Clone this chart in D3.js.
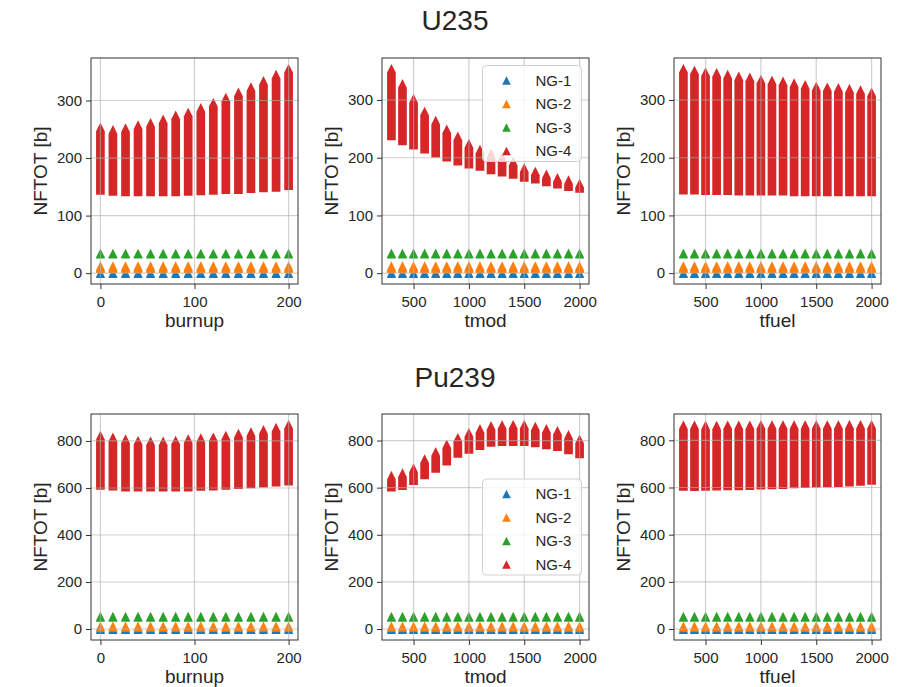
<!DOCTYPE html>
<html>
<head>
<meta charset="utf-8">
<script src="https://cdn.jsdelivr.net/npm/d3@7"></script>
<style>
  body { margin: 0; background: #fff; }
  svg text { font-family: "Liberation Sans", Arial, Helvetica, sans-serif; fill: #262626; }
</style>
</head>
<body>
<svg id="chart" width="910" height="687"></svg>
<script>
'use strict';

// sampled parameter values (x positions of the marker columns)
const burnup = [0, 13.3, 26.7, 40, 53.3, 66.7, 80, 93.3, 106.7, 120, 133.3, 146.7, 160, 173.3, 186.7, 200];
const temps = [300, 400, 500, 600, 700, 800, 900, 1000, 1100, 1200, 1300, 1400, 1500, 1600, 1700, 1800, 1900, 2000];

const groups = ['NG-1', 'NG-2', 'NG-3', 'NG-4'];
const colors = ['#1f77b4', '#ff7f0e', '#2ca02c', '#d62728'];

// NG-4 spread at each x: lowest and highest value of the column
const u235BurnupMin = [144, 142, 141, 141, 141, 141, 141, 142, 143, 144, 145, 145, 147, 148, 149, 152];
const u235BurnupMax = [254, 250, 253, 258, 262, 268, 275, 280, 288, 297, 306, 315, 324, 335, 346, 356];
const u235TmodMin = [238, 229, 222, 215, 208, 201, 194, 189, 185, 179, 175, 171, 166, 163, 158, 154, 150, 147];
const u235TmodMax = [355, 329, 303, 281, 265, 250, 238, 225, 215, 208, 202, 194, 183, 177, 172, 166, 162, 156];
const u235TfuelMin = [144, 144, 143, 143, 143, 142, 142, 142, 142, 142, 141, 141, 141, 141, 141, 141, 141, 141];
const u235TfuelMax = [355, 352, 349, 348, 345, 342, 340, 336, 335, 333, 330, 327, 324, 323, 322, 320, 318, 314];

const pu239BurnupMin = [611, 608, 604, 603, 603, 603, 603, 604, 607, 608, 611, 614, 617, 621, 625, 629];
const pu239BurnupMax = [825, 817, 810, 803, 800, 800, 804, 810, 814, 818, 825, 833, 840, 849, 859, 871];
const pu239TmodMin = [602, 609, 630, 654, 682, 713, 745, 762, 778, 792, 795, 795, 795, 790, 781, 774, 760, 743];
const pu239TmodMax = [653, 664, 684, 723, 754, 786, 814, 835, 852, 864, 868, 869, 869, 861, 852, 843, 826, 807];
const pu239TfuelMin = [605, 604, 605, 606, 607, 607, 608, 610, 611, 612, 615, 616, 618, 619, 621, 623, 626, 630];
const pu239TfuelMax = [866, 866, 864, 864, 866, 866, 866, 867, 867, 867, 867, 867, 867, 867, 867, 868, 868, 868];

// NG-1..NG-3 stay put: [lowest, highest] at every x
const u235Low = [[-1, 1], [8, 13], [33, 35]];
const pu239Low = [[-3, 2], [7, 13], [49, 55]];

const u235Ticks = [0, 100, 200, 300];
const pu239Ticks = [0, 200, 400, 600, 800];
const burnupTicks = [0, 100, 200];
const tempTicks = [500, 1000, 1500, 2000];

const titles = ['U235', 'Pu239'];

const panels = [
  { row: 0, col: 0, xs: burnup, lo: u235BurnupMin, hi: u235BurnupMax, low: u235Low, xlabel: 'burnup', xt: burnupTicks, yt: u235Ticks },
  { row: 0, col: 1, xs: temps, lo: u235TmodMin, hi: u235TmodMax, low: u235Low, xlabel: 'tmod', xt: tempTicks, yt: u235Ticks, legend: 'upper right' },
  { row: 0, col: 2, xs: temps, lo: u235TfuelMin, hi: u235TfuelMax, low: u235Low, xlabel: 'tfuel', xt: tempTicks, yt: u235Ticks },
  { row: 1, col: 0, xs: burnup, lo: pu239BurnupMin, hi: pu239BurnupMax, low: pu239Low, xlabel: 'burnup', xt: burnupTicks, yt: pu239Ticks },
  { row: 1, col: 1, xs: temps, lo: pu239TmodMin, hi: pu239TmodMax, low: pu239Low, xlabel: 'tmod', xt: tempTicks, yt: pu239Ticks, legend: 'center right' },
  { row: 1, col: 2, xs: temps, lo: pu239TfuelMin, hi: pu239TfuelMax, low: pu239Low, xlabel: 'tfuel', xt: tempTicks, yt: pu239Ticks }
];

// layout
const colLeft = [91, 382, 674];
const rowTop = [58, 414];
const panelW = 207, panelH = 226;
const titleY = [30, 387];
const markerSize = 8.7;

const svg = d3.select('#chart');

titles.forEach((t, i) => {
  svg.append('text')
    .attr('x', 455).attr('y', titleY[i])
    .attr('text-anchor', 'middle')
    .style('font-size', '28px')
    .text(t);
});

// matplotlib style autoscale: data range plus 5% each side
function padded(lo, hi) {
  const d = (hi - lo) * 0.05;
  return [lo - d, hi + d];
}

// union of '^' markers stacked from lo to hi at one x
function columnPath(x, yLo, yHi, s) {
  const h = s / 2;
  return 'M' + x + ',' + (yHi - h) +
    'L' + (x + h) + ',' + (yHi + h) +
    'L' + (x + h) + ',' + (yLo + h) +
    'L' + (x - h) + ',' + (yLo + h) +
    'L' + (x - h) + ',' + (yHi + h) + 'Z';
}

panels.forEach((p, idx) => {
  const left = colLeft[p.col], top = rowTop[p.row];
  const g = svg.append('g').attr('transform', 'translate(' + left + ',' + top + ')');

  const yMin = d3.min([d3.min(p.lo), d3.min(p.low, d => d[0])]);
  const yMax = d3.max([d3.max(p.hi), d3.max(p.low, d => d[1])]);

  const x = d3.scaleLinear().domain(padded(d3.min(p.xs), d3.max(p.xs))).range([0, panelW]);
  const y = d3.scaleLinear().domain(padded(yMin, yMax)).range([panelH, 0]);

  const clipId = 'clip' + idx;
  g.append('clipPath').attr('id', clipId)
    .append('rect').attr('width', panelW).attr('height', panelH);

  const plot = g.append('g').attr('clip-path', 'url(#' + clipId + ')');

  // series in order NG-1 .. NG-4
  const series = p.low.map(r => p.xs.map(() => r)).concat([p.xs.map((_, i) => [p.lo[i], p.hi[i]])]);
  series.forEach((ranges, si) => {
    plot.append('g').selectAll('path')
      .data(ranges)
      .enter()
      .append('path')
      .attr('d', (r, i) => columnPath(x(p.xs[i]), y(r[0]), y(r[1]), markerSize))
      .attr('fill', colors[si]);
  });

  // grid sits above the markers, as in the source
  const grid = g.append('g').attr('stroke', '#b0b0b0').attr('stroke-opacity', 0.6).attr('stroke-width', 1.2);
  grid.selectAll('.gx').data(p.xt).enter().append('line')
    .attr('x1', d => x(d)).attr('x2', d => x(d)).attr('y1', 0).attr('y2', panelH);
  grid.selectAll('.gy').data(p.yt).enter().append('line')
    .attr('y1', d => y(d)).attr('y2', d => y(d)).attr('x1', 0).attr('x2', panelW);

  // axes
  const xAxis = g.append('g').attr('transform', 'translate(0,' + panelH + ')')
    .call(d3.axisBottom(x).tickValues(p.xt).tickSize(5).tickPadding(4).tickFormat(d3.format('d')));
  const yAxis = g.append('g')
    .call(d3.axisLeft(y).tickValues(p.yt).tickSize(5).tickPadding(4).tickFormat(d3.format('d')));
  [xAxis, yAxis].forEach(a => {
    a.select('.domain').remove();
    a.selectAll('line').attr('stroke', '#333');
    a.selectAll('text').style('font-size', '15px').attr('fill', '#262626');
  });
  xAxis.selectAll('text').attr('dy', '0.95em');

  g.append('rect')
    .attr('width', panelW).attr('height', panelH)
    .attr('fill', 'none').attr('stroke', '#333').attr('stroke-width', 1);

  g.append('text')
    .attr('x', panelW / 2).attr('y', panelH + 43)
    .attr('text-anchor', 'middle')
    .style('font-size', '19px')
    .text(p.xlabel);

  g.append('text')
    .attr('transform', 'translate(-44,' + (panelH / 2) + ') rotate(-90)')
    .attr('text-anchor', 'middle')
    .style('font-size', '19px')
    .text('NFTOT [b]');

  if (p.legend) {
    const lw = 99, lh = 96;
    const lx = panelW - 7.5 - lw;
    const ly = p.legend === 'upper right' ? 7.5 : (panelH - lh) / 2;
    const lg = g.append('g').attr('transform', 'translate(' + lx + ',' + ly + ')');
    lg.append('rect')
      .attr('width', lw).attr('height', lh).attr('rx', 4)
      .attr('fill', '#fff').attr('fill-opacity', 0.8)
      .attr('stroke', '#d0d0d0').attr('stroke-width', 1);
    groups.forEach((name, i) => {
      const cy = 15 + i * 23.5;
      lg.append('path')
        .attr('d', columnPath(24, cy, cy, markerSize))
        .attr('fill', colors[i]);
      lg.append('text')
        .attr('x', 53).attr('y', cy).attr('dy', '0.36em')
        .style('font-size', '15px')
        .text(name);
    });
  }
});
</script>
</body>
</html>
